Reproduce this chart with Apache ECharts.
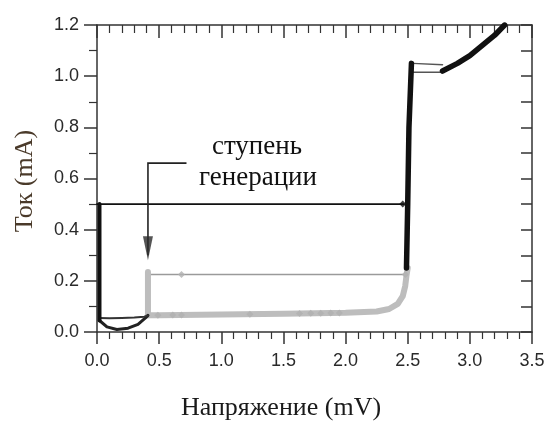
<!DOCTYPE html>
<html>
<head>
<meta charset="utf-8">
<script src="https://cdn.jsdelivr.net/npm/echarts@6/dist/echarts.min.js"></script>
<style>
  html, body { margin: 0; padding: 0; background: #fff; }
  #chart { width: 548px; height: 426px; }
</style>
</head>
<body>
<div id="chart"></div>
<script>
// Axis ranges and tick steps (voltage in mV, current in mA)
const xRange = [0, 3.5];
const yRange = [0, 1.2];
const xStep = 0.5;
const yStep = 0.2;

// Superconducting branch / switching line at 0.5 mA
const switchLine = [[0.0, 0.5], [2.47, 0.5]];
const zeroBranch = [[0.02, 0.5], [0.02, 0.3], [0.02, 0.1], [0.02, 0.045]];

// Low-voltage hysteresis loop (dark)
const loopUpper = [[0.02, 0.055], [0.1, 0.054], [0.2, 0.055], [0.3, 0.057], [0.38, 0.06], [0.41, 0.065]];
const loopLower = [[0.02, 0.045], [0.08, 0.02], [0.16, 0.01], [0.25, 0.015], [0.33, 0.03], [0.39, 0.055], [0.41, 0.065]];

// Generation step (light grey)
const stepRise = [[0.41, 0.065], [0.41, 0.15], [0.41, 0.235]];
const stepLine = [[0.41, 0.225], [2.48, 0.225]];
const stepPlateau = [
  [0.41, 0.065], [0.5, 0.065], [1.0, 0.068], [1.5, 0.071], [2.0, 0.075],
  [2.25, 0.08], [2.35, 0.09], [2.42, 0.11], [2.46, 0.14], [2.48, 0.18],
  [2.49, 0.22], [2.5, 0.25]
];
const plateauMarks = [[0.49, 0.065], [0.61, 0.066], [0.68, 0.066], [1.23, 0.069], [1.63, 0.072], [1.72, 0.073], [1.8, 0.073], [1.88, 0.074], [1.95, 0.074]];
const stepLineMarks = [[0.68, 0.225], [2.48, 0.225]];

// Gap rise and high-voltage branch (black)
const gapRise = [[2.49, 0.25], [2.5, 0.5], [2.51, 0.8], [2.53, 1.05]];
const gapTopA = [[2.54, 1.05], [2.78, 1.045]];
const gapTopB = [[2.54, 1.015], [2.78, 1.015]];
const normalBranch = [[2.78, 1.02], [2.9, 1.05], [3.0, 1.08], [3.1, 1.12], [3.2, 1.16], [3.28, 1.2]];
const switchMark = [[2.46, 0.5]];

// Annotation arrow: leader path and head position
const arrowPath = [[0.72, 0.66], [0.41, 0.66], [0.41, 0.3]];
const arrowTip = [[0.41, 0.28]];
const noteLines = ['ступень', 'генерации'];

const BLACK = '#111';
const GREY = '#bdbdbd';
const AXIS = '#333';

const chart = echarts.init(document.getElementById('chart'), null, { renderer: 'canvas' });

function lineSeries(data, color, width, extra) {
  return Object.assign({
    type: 'line', data: data, xAxisIndex: 0, yAxisIndex: 0,
    showSymbol: false, symbol: 'none', silent: true,
    lineStyle: { color: color, width: width, cap: 'round', join: 'round' },
    z: 3
  }, extra || {});
}

const axisLine = { show: true, onZero: false, lineStyle: { color: AXIS, width: 1.5 } };
const tickLabel = { fontFamily: 'Liberation Sans', fontSize: 18, color: '#2a2a2a' };

const option = {
  animation: false,
  backgroundColor: '#fff',
  grid: { left: 97, right: 16, top: 25, bottom: 94, containLabel: false },
  xAxis: [
    {
      type: 'value', position: 'bottom', min: xRange[0], max: xRange[1], interval: xStep,
      axisLine: axisLine,
      axisTick: { show: true, inside: false, length: 12, lineStyle: { color: AXIS, width: 1.5 } },
      minorTick: { show: true, splitNumber: 5, length: 7, lineStyle: { color: AXIS, width: 1.2 } },
      axisLabel: Object.assign({ margin: 20, formatter: v => v.toFixed(1) }, tickLabel),
      splitLine: { show: false }
    },
    {
      type: 'value', position: 'top', min: xRange[0], max: xRange[1], interval: xStep,
      axisLine: axisLine,
      axisTick: { show: true, inside: true, length: 13, lineStyle: { color: AXIS, width: 1.5 } },
      minorTick: { show: true, splitNumber: 5, length: 8, lineStyle: { color: AXIS, width: 1.2 } },
      axisLabel: { show: false },
      splitLine: { show: false }
    }
  ],
  yAxis: [
    {
      type: 'value', position: 'left', min: yRange[0], max: yRange[1], interval: yStep,
      axisLine: axisLine,
      axisTick: { show: true, inside: false, length: 13, lineStyle: { color: AXIS, width: 1.5 } },
      minorTick: { show: true, splitNumber: 2, length: 8, lineStyle: { color: AXIS, width: 1.2 } },
      axisLabel: Object.assign({ margin: 18, formatter: v => v.toFixed(1) }, tickLabel),
      splitLine: { show: false }
    },
    {
      type: 'value', position: 'right', min: yRange[0], max: yRange[1], interval: yStep / 2,
      axisLine: axisLine,
      axisTick: { show: true, inside: true, length: 11, lineStyle: { color: AXIS, width: 1.5 } },
      axisLabel: { show: false },
      splitLine: { show: false }
    }
  ],
  series: [
    lineSeries(switchLine, BLACK, 1.8),
    lineSeries(stepLine, '#9a9a9a', 1.6),
    lineSeries(stepPlateau, GREY, 6),
    lineSeries(stepRise, GREY, 6),
    lineSeries(loopLower, '#222', 3),
    lineSeries(loopUpper, '#333', 2),
    lineSeries(zeroBranch, BLACK, 4),
    lineSeries(gapTopA, '#555', 1.5),
    lineSeries(gapTopB, '#555', 1.5),
    lineSeries(gapRise, BLACK, 5.5, { z: 4 }),
    lineSeries(normalBranch, BLACK, 5.5, { z: 4 }),
    {
      type: 'scatter', data: plateauMarks.concat(stepLineMarks), symbol: 'diamond', symbolSize: 7,
      itemStyle: { color: '#b0b0b0' }, silent: true, z: 5
    },
    {
      type: 'scatter', data: switchMark, symbol: 'diamond', symbolSize: 7,
      itemStyle: { color: BLACK }, silent: true, z: 5
    },
    lineSeries(arrowPath, '#222', 1.6, { z: 6, lineStyle: { color: '#222', width: 1.6, cap: 'butt', join: 'miter' } }),
    {
      type: 'scatter', data: arrowTip, silent: true, z: 6,
      symbol: 'path://M0,0 L10,0 L5,24 Z', symbolSize: [10, 24], symbolOffset: [0, -12],
      itemStyle: { color: '#2a2a2a' }
    }
  ],
  graphic: [
    {
      type: 'text', x: 257, y: 147,
      style: { text: noteLines[0], font: '27px "Liberation Serif"', fill: '#111', align: 'center', verticalAlign: 'middle' }
    },
    {
      type: 'text', x: 258, y: 178,
      style: { text: noteLines[1], font: '27px "Liberation Serif"', fill: '#111', align: 'center', verticalAlign: 'middle' }
    },
    {
      type: 'text', x: 281, y: 408,
      style: { text: 'Напряжение (mV)', font: '26px "Liberation Serif"', fill: '#1a1a1a', align: 'center', verticalAlign: 'middle' }
    },
    {
      type: 'text', x: 25, y: 181, rotation: Math.PI / 2,
      style: { text: 'Ток (mA)', font: '26px "Liberation Serif"', fill: '#4a3a2a', align: 'center', verticalAlign: 'middle' }
    }
  ]
};

chart.setOption(option);
</script>
</body>
</html>
